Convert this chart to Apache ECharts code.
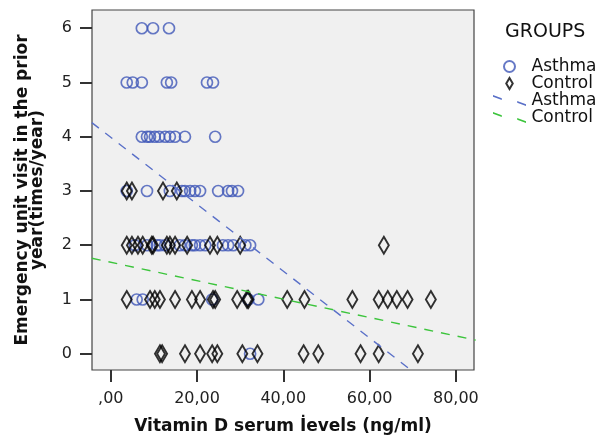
<!DOCTYPE html>
<html>
<head>
<meta charset="utf-8">
<script src="https://cdn.jsdelivr.net/npm/echarts@6/dist/echarts.min.js"></script>
<style>
  html, body { margin: 0; padding: 0; background: #fff; }
  #chart { width: 598px; height: 440px; }
</style>
</head>
<body>
<div id="chart"></div>
<script>
// Vitamin D level (x) per visit count (y)
const asthma6 = [7.2, 9.8, 13.5];
const asthma5 = [3.7, 5.1, 7.2, 13.0, 14.0, 22.3, 23.7];
const asthma4 = [7.2, 8.4, 9.1, 10.2, 11.2, 12.6, 13.7, 14.9, 17.2, 24.2];
const asthma3 = [3.7, 8.4, 13.7, 16.5, 17.2, 18.4, 19.5, 20.7, 24.9, 27.2, 28.1, 29.5];
const asthma2 = [5.6, 8.4, 10.7, 11.4, 12.6, 16.0, 17.2, 18.8, 19.5, 20.7, 21.9, 26.0, 27.2, 28.4, 31.2, 32.3];
const asthma1 = [6.0, 7.4, 23.5, 31.9, 34.2];
const asthma0 = [32.3];

const control3 = [3.7, 4.9, 12.1, 15.3];
const control2 = [3.7, 4.9, 6.3, 7.4, 9.5, 9.8, 13.0, 13.7, 14.9, 17.7, 23.0, 24.7, 30.0, 63.3];
const control1 = [3.7, 9.1, 10.2, 11.4, 14.9, 18.8, 20.7, 23.7, 24.2, 29.3, 31.6, 31.9,
                  40.9, 44.9, 56.0, 62.1, 64.2, 66.3, 68.8, 74.2];
const control0 = [11.4, 11.9, 17.2, 20.7, 23.5, 24.7, 30.5, 34.0, 44.7, 48.1, 57.9, 62.1, 71.2];

// fit line end points
const asthmaFit = [[-4.4, 4.26], [72, -0.45]];
const controlFit = [[-4.4, 1.76], [84.6, 0.25]];

const xTicks = [0, 20, 40, 60, 80];
const yTicks = [0, 1, 2, 3, 4, 5, 6];

function rows(byVisit) {
  const out = [];
  byVisit.forEach(([v, xs]) => xs.forEach(x => out.push([x, v])));
  return out;
}

const asthmaPts = rows([[6, asthma6], [5, asthma5], [4, asthma4], [3, asthma3],
                        [2, asthma2], [1, asthma1], [0, asthma0]]);
const controlPts = rows([[3, control3], [2, control2], [1, control1], [0, control0]]);

const FONT = 'DejaVu Sans';
const fmtX = v => v === 0 ? ',00' : v.toFixed(2).replace('.', ',');
// legend icons: tall diamond, and two short slanted dashes for the fit lines
const DIAMOND_ICON = 'path://M5,0 L10,8.5 L5,17 L0,8.5 Z';
const DASH_ICON = 'path://M0,0 L8,3 L8,4.6 L0,1.6 Z M22,5.4 L30,8.4 L30,10 L22,7 Z';

const chart = echarts.init(document.getElementById('chart'), null, { renderer: 'canvas' });
chart.setOption({
  animation: false,
  title: {
    text: 'GROUPS', left: 505, top: 23, padding: 0,
    textStyle: { fontFamily: FONT, fontSize: 19, fontWeight: 'normal', color: '#111' }
  },
  legend: {
    orient: 'vertical', left: 493, top: 58, padding: 0,
    itemWidth: 34, itemHeight: 11, itemGap: 0, symbolKeepAspect: true,
    textStyle: { fontFamily: FONT, fontSize: 17, lineHeight: 17, color: '#111' },
    data: [
      { name: 'Asthma' },
      { name: 'Control', icon: DIAMOND_ICON },
      { name: 'Asthma ', icon: DASH_ICON },
      { name: 'Control ', icon: DASH_ICON }
    ]
  },
  grid: {
    left: 92, top: 10, width: 382, height: 361,
    show: true, backgroundColor: '#f0f0f0', borderColor: '#444', borderWidth: 1.2
  },
  xAxis: {
    type: 'value', min: -4.35, max: 84.2,
    name: 'Vitamin D serum İevels (ng/ml)', nameLocation: 'middle', nameGap: 48,
    nameTextStyle: { fontFamily: FONT, fontSize: 17, fontWeight: 'bold', color: '#111' },
    axisLine: { show: false, onZero: false },
    axisTick: { show: true, length: 12, customValues: xTicks, lineStyle: { color: '#333', width: 2 } },
    axisLabel: { customValues: xTicks, formatter: fmtX, margin: 21,
                 fontFamily: FONT, fontSize: 16, color: '#222' },
    splitLine: { show: false }
  },
  yAxis: {
    type: 'value', min: -0.3, max: 6.336,
    name: 'Emergency unit visit in the prior\nyear(times/year)', nameLocation: 'middle',
    nameRotate: 90, nameGap: 47,
    nameTextStyle: { fontFamily: FONT, fontSize: 17, fontWeight: 'bold', color: '#111', lineHeight: 15 },
    axisLine: { show: false, onZero: false },
    axisTick: { show: true, length: 12, customValues: yTicks, lineStyle: { color: '#333', width: 2 } },
    axisLabel: { customValues: yTicks, margin: 20, fontFamily: FONT, fontSize: 16, color: '#222' },
    splitLine: { show: false }
  },
  series: [
    {
      name: 'Asthma', type: 'scatter', data: asthmaPts,
      symbol: 'circle', symbolSize: 11,
      itemStyle: { color: 'rgba(0,0,0,0)', borderColor: '#4058b8', borderWidth: 1.7 }
    },
    {
      name: 'Control', type: 'scatter', data: controlPts,
      symbol: 'diamond', symbolSize: [10, 17],
      itemStyle: { color: 'rgba(0,0,0,0)', borderColor: '#000', borderWidth: 2 }
    },
    {
      name: 'Asthma ', type: 'line', data: asthmaFit, symbol: 'none', clip: true,
      color: '#5a70c8', itemStyle: { color: '#5a70c8' },
      lineStyle: { color: '#5a70c8', width: 1.4, type: [9, 8] }
    },
    {
      name: 'Control ', type: 'line', data: controlFit, symbol: 'none', clip: true,
      color: '#3cc43c', itemStyle: { color: '#3cc43c' },
      lineStyle: { color: '#3cc43c', width: 1.4, type: [9, 8] }
    }
  ]
});
</script>
</body>
</html>
